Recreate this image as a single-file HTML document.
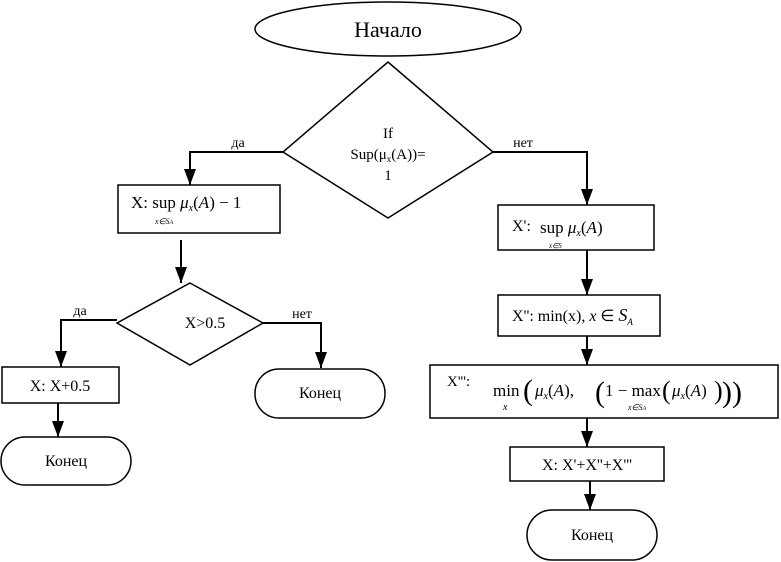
<!DOCTYPE html>
<html><head><meta charset="utf-8"><style>
html,body{margin:0;padding:0;background:#fff;}
svg{display:block;}
text{font-family:"Liberation Serif",serif;fill:#000;}
</style></head><body>
<svg width="781" height="562" viewBox="0 0 781 562" xmlns="http://www.w3.org/2000/svg">
<defs><marker id="a" markerWidth="16" markerHeight="12" refX="16" refY="6" orient="auto" markerUnits="userSpaceOnUse" viewBox="0 0 16 12"><path d="M0,0 L16,6 L0,12 Z" fill="#000"/></marker></defs>
<g fill="none" stroke="#000" stroke-width="1.5">
<ellipse cx="388" cy="29" rx="133" ry="27"/>
<polygon points="388,62 493,152 388,218 283,152"/>
<polyline points="283,152 190,152 190,185" marker-end="url(#a)" stroke-width="2"/>
<rect x="118" y="185" width="162" height="48"/>
<line x1="181" y1="240" x2="181" y2="283" marker-end="url(#a)" stroke-width="2"/>
<polygon points="190,283 263,323 190,365 117,323"/>
<polyline points="117,320 61,320 61,367" marker-end="url(#a)" stroke-width="2"/>
<rect x="2" y="367" width="117" height="36"/>
<line x1="58" y1="403" x2="58" y2="437" marker-end="url(#a)" stroke-width="2"/>
<rect x="1" y="437" width="130" height="48" rx="24"/>
<polyline points="263,323 321,323 321,368" marker-end="url(#a)" stroke-width="2"/>
<rect x="255" y="369" width="130" height="49" rx="24"/>
<polyline points="493,152 587,152 587,205" marker-end="url(#a)" stroke-width="2"/>
<rect x="498" y="205" width="156" height="45"/>
<line x1="587" y1="250" x2="587" y2="295" marker-end="url(#a)" stroke-width="2"/>
<rect x="498" y="295" width="162" height="41"/>
<line x1="587" y1="336" x2="587" y2="365" marker-end="url(#a)" stroke-width="2"/>
<rect x="430" y="365" width="348" height="53"/>
<line x1="587" y1="418" x2="587" y2="447" marker-end="url(#a)" stroke-width="2"/>
<rect x="510" y="447" width="154" height="34"/>
<line x1="590" y1="481" x2="590" y2="510" marker-end="url(#a)" stroke-width="2"/>
<rect x="527" y="510" width="130" height="50" rx="25"/>
</g>
<text x="388" y="37" font-size="22" text-anchor="middle">Начало</text>
<text x="388" y="138" font-size="15" text-anchor="middle">If</text>
<text x="388" y="159" font-size="15" text-anchor="middle">Sup(μ<tspan font-size="9" dy="3">x</tspan><tspan dy="-3">(A))=</tspan></text>
<text x="388" y="180" font-size="15" text-anchor="middle">1</text>
<text x="238" y="147" font-size="14" text-anchor="middle">да</text>
<text x="523" y="147" font-size="14" text-anchor="middle">нет</text>
<text x="131" y="208" font-size="17">X: sup <tspan font-style="italic">μ</tspan><tspan font-size="10" font-style="italic" dy="3">x</tspan><tspan dy="-3">(</tspan><tspan font-style="italic">A</tspan>) − 1</text>
<text x="155" y="224" font-size="8" font-style="italic">x∈S<tspan font-size="6">A</tspan></text>
<text x="205" y="328" font-size="16" text-anchor="middle">X&gt;0.5</text>
<text x="80" y="315" font-size="14" text-anchor="middle">да</text>
<text x="302" y="318" font-size="14" text-anchor="middle">нет</text>
<text x="60" y="391" font-size="16" text-anchor="middle">X: X+0.5</text>
<text x="66" y="466" font-size="16" text-anchor="middle">Конец</text>
<text x="320" y="398" font-size="16" text-anchor="middle">Конец</text>
<text x="592" y="540" font-size="16" text-anchor="middle">Конец</text>
<text x="512" y="231" font-size="16">X': </text>
<text x="540" y="233" font-size="17">sup <tspan font-style="italic">μ</tspan><tspan font-size="10" font-style="italic" dy="3">x</tspan><tspan dy="-3">(</tspan><tspan font-style="italic">A</tspan>)</text>
<text x="549" y="248" font-size="7" font-style="italic">x∈S</text>
<text x="512" y="321" font-size="16">X'': min(x),   <tspan font-style="italic">x</tspan> ∈ <tspan font-style="italic" font-size="18">S</tspan><tspan font-size="9" font-style="italic" dy="4">A</tspan></text>
<text x="447" y="386" font-size="15">X''':</text>
<text x="493" y="396" font-size="17">min</text>
<text x="503" y="410" font-size="10" font-style="italic">x</text>
<text x="523" y="400" font-size="30">(</text>
<text x="535" y="396" font-size="17"><tspan font-style="italic">μ</tspan><tspan font-size="10" font-style="italic" dy="3">x</tspan><tspan dy="-3">(</tspan><tspan font-style="italic">A</tspan>),</text>
<text x="595" y="402" font-size="30">(</text>
<text x="605" y="396" font-size="17">1 − max</text>
<text x="628" y="410" font-size="8" font-style="italic">x∈S<tspan font-size="6">A</tspan></text>
<text x="662" y="399" font-size="26">(</text>
<text x="672" y="396" font-size="17"><tspan font-style="italic">μ</tspan><tspan font-size="10" font-style="italic" dy="3">x</tspan><tspan dy="-3">(</tspan><tspan font-style="italic">A</tspan>)</text>
<text x="714" y="399" font-size="26">)</text>
<text x="722" y="402" font-size="30">))</text>
<text x="587" y="470" font-size="16" text-anchor="middle">X: X'+X''+X'''</text>
</svg>
</body></html>
